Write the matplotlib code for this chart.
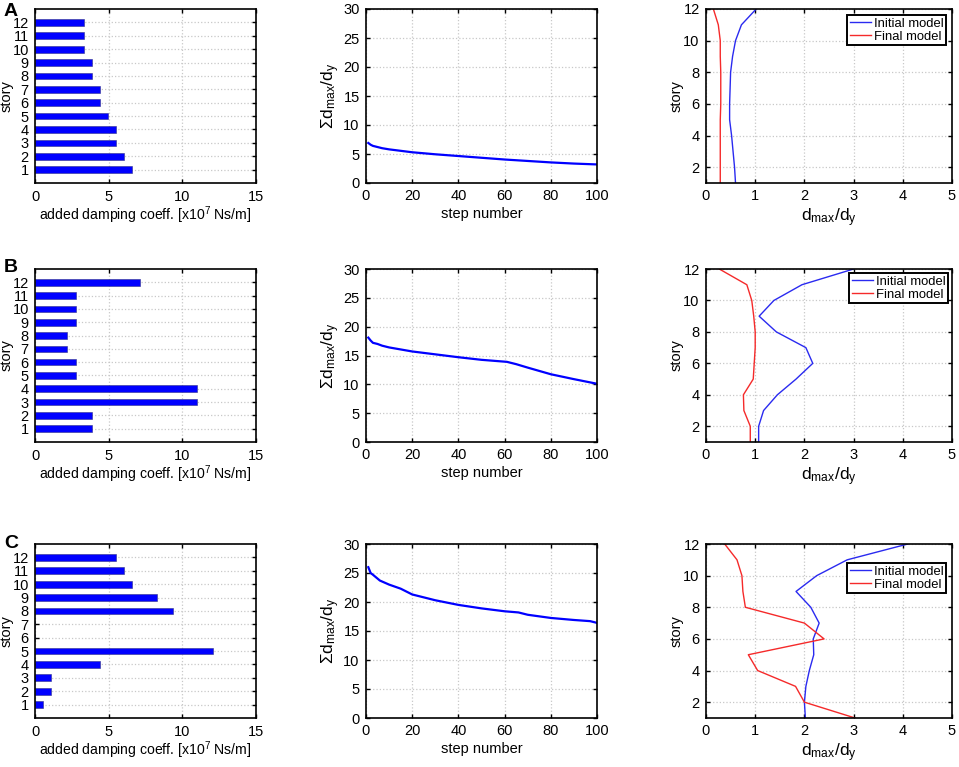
import matplotlib
matplotlib.use("Agg")
import matplotlib.pyplot as plt

plt.rcParams['font.family'] = ['Liberation Sans', 'DejaVu Sans']
plt.rcParams['mathtext.fontset'] = 'custom'
plt.rcParams['mathtext.rm'] = 'Liberation Sans'
plt.rcParams['mathtext.default'] = 'rm'

W, H = 959, 767
stories = list(range(1, 13))
panel_labels = ['A', 'B', 'C']

bars_A = [6.6, 6.05, 5.5, 5.5, 4.95, 4.4, 4.4, 3.85, 3.85, 3.3, 3.3, 3.3]
bars_B = [3.85, 3.85, 11.0, 11.0, 2.75, 2.75, 2.2, 2.2, 2.75, 2.75, 2.75, 7.15]
bars_C = [0.55, 1.1, 1.1, 4.4, 12.1, 0.0, 0.0, 9.35, 8.25, 6.6, 6.05, 5.5]

steps_A = [1, 2, 3, 5, 7, 10, 20, 30, 40, 50, 60, 70, 80, 90, 100]
sum_A = [6.9, 6.6, 6.4, 6.2, 6.0, 5.8, 5.3, 4.95, 4.65, 4.35, 4.05, 3.8, 3.55, 3.35, 3.2]
steps_B = [1, 2, 3, 5, 7, 10, 20, 30, 40, 50, 61, 65, 70, 80, 90, 100]
sum_B = [18.1, 17.6, 17.2, 17.0, 16.7, 16.4, 15.7, 15.2, 14.7, 14.25, 13.9, 13.5, 12.9, 11.75, 10.9, 10.1]
steps_C = [1, 2, 3, 6, 10, 15, 20, 30, 40, 50, 60, 66, 70, 80, 90, 97, 100]
sum_C = [26.0, 25.0, 24.7, 23.7, 23.0, 22.3, 21.3, 20.3, 19.5, 18.9, 18.4, 18.2, 17.8, 17.25, 16.9, 16.7, 16.4]

init_A = [0.6, 0.58, 0.55, 0.52, 0.48, 0.48, 0.49, 0.5, 0.54, 0.6, 0.72, 1.02]
final_A = [0.29, 0.29, 0.29, 0.29, 0.29, 0.3, 0.3, 0.3, 0.29, 0.29, 0.25, 0.15]
init_B = [1.07, 1.07, 1.17, 1.45, 1.83, 2.17, 2.03, 1.43, 1.08, 1.38, 1.95, 3.0]
final_B = [0.9, 0.9, 0.77, 0.76, 0.96, 0.98, 1.0, 1.0, 0.97, 0.93, 0.83, 0.27]
init_C = [2.02, 2.0, 2.03, 2.1, 2.19, 2.18, 2.3, 2.13, 1.83, 2.25, 2.87, 4.1]
final_C = [3.03, 2.0, 1.82, 1.05, 0.86, 2.4, 2.0, 0.8, 0.75, 0.73, 0.63, 0.38]

bars = [bars_A, bars_B, bars_C]
sum_steps = [steps_A, steps_B, steps_C]
sums = [sum_A, sum_B, sum_C]
inits = [init_A, init_B, init_C]
finals = [final_A, final_B, final_C]

col_x = [(35, 256), (366, 597), (706, 952)]
row_y = [(9, 183), (269, 442), (544, 718)]
legend_xy = [(847, 15), (849, 273), (847, 563)]
label_y = [12, 268, 544]
FS = 10.5
BLUE = '#0000ff'
LINE_BLUE = '#2a2af0'
RED = '#f52a2a'

fig = plt.figure(figsize=(W / 100, H / 100), dpi=100)


def make_axes(c, r):
    x0, x1 = col_x[c]
    y0, y1 = row_y[r]
    ax = fig.add_axes([x0 / W, 1 - y1 / H, (x1 - x0) / W, (y1 - y0) / H])
    ax.tick_params(direction='in', length=3, width=1.0, labelsize=FS, top=True, right=True, pad=4.5)
    ax.grid(True, color='#c8c8c8', linestyle=':', linewidth=0.9)
    ax.set_axisbelow(True)
    for s in ax.spines.values():
        s.set_linewidth(1.2)
    return ax


for r in range(3):
    ax = make_axes(0, r)
    ax.barh(stories, bars[r], height=0.5, color=BLUE, edgecolor='#30308a', linewidth=0.4)
    ax.set_xlim(0, 15)
    ax.set_ylim(0, 13)
    ax.set_xticks([0, 5, 10, 15])
    ax.set_yticks(stories)
    ax.tick_params(axis='x', pad=5)
    ax.set_xlabel(r'added damping coeff. [x10$^{7}$ Ns/m]', fontsize=10.1, labelpad=0)
    ax.set_ylabel('story', fontsize=FS, labelpad=-1)
    fig.text(4 / W, 1 - label_y[r] / H, panel_labels[r], fontsize=14, fontweight='bold', va='center', ha='left')

    ax = make_axes(1, r)
    ax.plot(sum_steps[r], sums[r], color=BLUE, linewidth=1.6)
    ax.set_xlim(0, 100)
    ax.set_ylim(0, 30)
    ax.set_xticks(range(0, 101, 20))
    ax.set_yticks(range(0, 31, 5))
    ax.set_xlabel('step number', fontsize=FS, labelpad=3)
    ax.set_ylabel(r'$\Sigma d_{max}/d_{y}$', fontsize=12.5, labelpad=1)

    ax = make_axes(2, r)
    ax.plot(inits[r], stories, color=LINE_BLUE, linewidth=1.0, label='Initial model')
    ax.plot(finals[r], stories, color=RED, linewidth=1.0, label='Final model')
    ax.set_xlim(0, 5)
    ax.set_ylim(1, 12)
    ax.set_xticks(range(6))
    ax.set_yticks(range(2, 13, 2))
    ax.set_xlabel(r'$d_{max}/d_{y}$', fontsize=12.5, labelpad=2)
    ax.set_ylabel('story', fontsize=FS, labelpad=0)
    lx, ly = legend_xy[r]
    leg = ax.legend(loc='upper left', bbox_to_anchor=(lx / W, 1 - ly / H), bbox_transform=fig.transFigure,
                    fontsize=9.4, fancybox=False, framealpha=1, edgecolor='black',
                    borderpad=0.2, labelspacing=0.05, handlelength=1.6, handletextpad=0.25, borderaxespad=0)
    leg.get_frame().set_linewidth(1.4)

fig.savefig('out.png', dpi=100)
